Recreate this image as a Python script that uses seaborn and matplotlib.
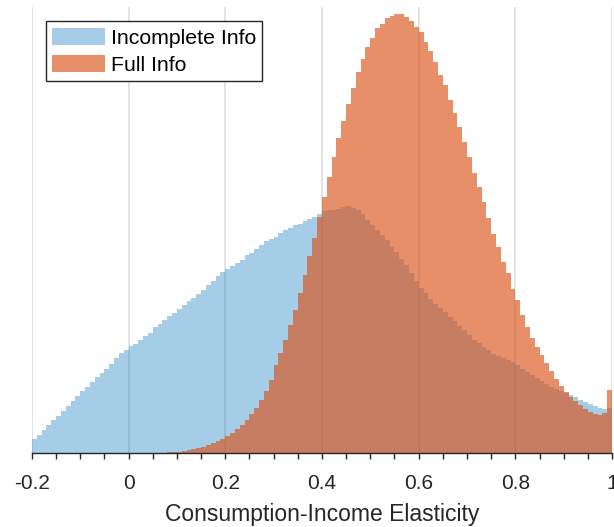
import numpy as np
import pandas as pd
import matplotlib
matplotlib.use("Agg")
import matplotlib.pyplot as plt
from matplotlib.patches import Patch
from matplotlib.ticker import MultipleLocator
import seaborn as sns

# Bin edges: -0.2 to 1.0, width 0.01 (120 bins)
bin_start = -0.2
bin_end = 1.0

incomplete_info = [
    14, 18, 23, 28, 33, 37, 42, 47, 52, 57, 62, 66, 71, 76, 80, 84, 89, 95, 100, 103,
    107, 109, 113, 117, 120, 126, 129, 133, 137, 140, 144, 148, 152, 155, 159, 163, 168, 172, 177, 181,
    184, 187, 190, 193, 198, 200, 204, 208, 212, 214, 216, 220, 223, 225, 228, 229, 232, 234, 236, 239,
    242, 243, 243, 244, 246, 247, 245, 243, 239, 233, 228, 223, 218, 213, 206, 201, 194, 188, 180, 172,
    165, 160, 154, 149, 145, 141, 136, 132, 127, 123, 118, 113, 110, 106, 103, 99, 97, 95, 93, 91,
    88, 84, 81, 78, 75, 72, 69, 66, 64, 62, 60, 58, 56, 53, 51, 49, 47, 45, 44, 45,
]

full_info = [
    0, 0, 0, 0, 0, 0, 0, 0, 0, 0, 0, 0, 0, 0, 0, 0, 0, 0, 0, 0,
    0, 0, 0, 0, 0, 0, 0, 0.3, 0.6, 1, 1.5, 2, 3, 4, 5, 6, 8, 10, 12, 14,
    17, 20, 24, 28, 33, 39, 45, 53, 62, 73, 88, 100, 113, 128, 143, 160, 178, 197, 215, 236,
    256, 276, 296, 315, 332, 349, 365, 381, 394, 406, 415, 425, 429, 435, 437, 439, 439, 436, 432, 426,
    421, 411, 402, 391, 378, 368, 353, 340, 326, 311, 296, 280, 266, 251, 235, 219, 206, 191, 180, 164,
    153, 138, 126, 115, 106, 98, 90, 82, 74, 67, 61, 56, 52, 48, 44, 41, 39, 38, 40, 63,
]

series_labels = ["Incomplete Info", "Full Info"]
tick_values = [-0.2, 0, 0.2, 0.4, 0.6, 0.8, 1]
tick_labels = ["-0.2", "0", "0.2", "0.4", "0.6", "0.8", "1"]
x_label = "Consumption-Income Elasticity"

n_bins = len(incomplete_info)
edges = np.linspace(bin_start, bin_end, n_bins + 1)
centers = (edges[:-1] + edges[1:]) / 2

blue = (0.0, 0.447, 0.741)
orange = (0.85, 0.325, 0.098)
blue_alpha = 0.35
orange_alpha = 0.65
text_color = "#262626"

plt.rcParams["font.family"] = ["Liberation Sans", "DejaVu Sans"]

fig = plt.figure(figsize=(6.14, 5.27), dpi=100)
ax = fig.add_axes([0.052, 0.1404, 0.9448, 0.8466])

df_a = pd.DataFrame({"x": centers, "w": incomplete_info})
df_b = pd.DataFrame({"x": centers, "w": full_info})

ax.set_axisbelow(True)
ax.grid(axis="x", color="#DEDEDE", linewidth=1.2)
ax.grid(axis="y", visible=False)

sns.histplot(data=df_a, x="x", weights="w", bins=n_bins, binrange=(bin_start, bin_end),
             element="step", fill=True, color=blue, alpha=blue_alpha, linewidth=0, ax=ax)
sns.histplot(data=df_b, x="x", weights="w", bins=n_bins, binrange=(bin_start, bin_end),
             element="step", fill=True, color=orange, alpha=orange_alpha, linewidth=0, ax=ax)

ax.set_xlim(bin_start, bin_end)
ax.set_ylim(0, 446)
ax.set_yticks([])
ax.set_ylabel("")
ax.set_xticks(tick_values)
ax.set_xticklabels(tick_labels)
ax.xaxis.set_minor_locator(MultipleLocator(0.05))
ax.tick_params(axis="x", which="both", direction="out", length=4, width=1,
               color=text_color, labelsize=15, labelcolor=text_color, pad=11)
for s in ["top", "right", "left"]:
    ax.spines[s].set_visible(False)
ax.spines["bottom"].set_color(text_color)
ax.spines["bottom"].set_linewidth(1)
ax.set_xlabel(x_label, fontsize=16.5, color=text_color, labelpad=7)

handles = [
    Patch(facecolor=blue, alpha=blue_alpha, edgecolor="none", label=series_labels[0]),
    Patch(facecolor=orange, alpha=orange_alpha, edgecolor="none", label=series_labels[1]),
]
leg = ax.legend(handles=handles, loc="upper left", bbox_to_anchor=(0.024, 0.968),
                borderaxespad=0, fontsize=15.3, frameon=True, fancybox=False,
                handlelength=2.5, handleheight=0.9, handletextpad=0.25,
                labelspacing=0.33, borderpad=0.3)
leg.get_frame().set_edgecolor(text_color)
leg.get_frame().set_linewidth(1)
leg.get_frame().set_alpha(1)

fig.savefig("out.png", dpi=100)
